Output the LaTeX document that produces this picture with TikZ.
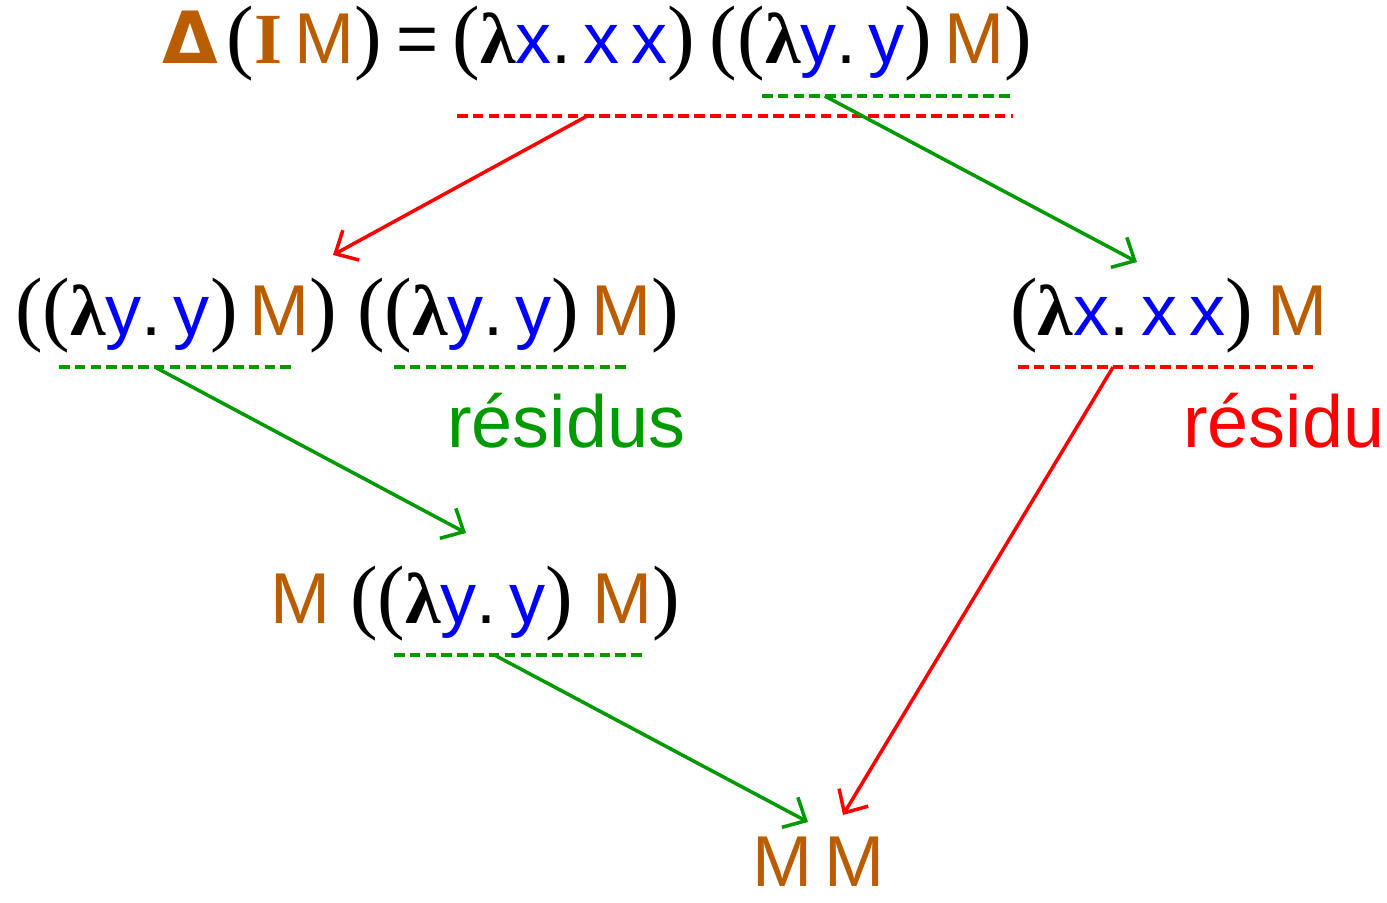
\documentclass[tikz,border=0pt]{standalone}
\usepackage{fontspec}
\setmainfont{Liberation Sans}
\newfontfamily\lamfont{Liberation Serif}
\newfontfamily\deltafont{DejaVu Sans}
\newfontfamily\parfont[Scale=1.15]{Liberation Serif}
\usetikzlibrary{arrows.meta,calc}
\definecolor{redInk}{RGB}{255,0,0}
\definecolor{greenInk}{RGB}{0,153,0}
\definecolor{blueInk}{RGB}{0,0,255}
\definecolor{termBrown}{RGB}{186,92,0}
\newcommand{\lam}{{\lamfont\bfseries λ}}
\newcommand{\lp}{{\parfont (}}
\newcommand{\rp}{{\parfont )}}
\newcommand{\vx}[1]{\textcolor{blueInk}{#1}}
\newcommand{\tm}[1]{\textcolor{termBrown}{#1}}
\newcommand{\idty}{\lp\lam\vx{y}.\,\vx{y}\rp}
\tikzset{
  term/.style={font=\fontsize{41}{44}\selectfont, inner sep=0pt,
    anchor=base west},
  tag/.style={font=\fontsize{42}{44}\selectfont, inner sep=0pt,
    anchor=base west},
  redex/.style={dash pattern=on 6pt off 3pt, line width=2.2pt},
  reduc/.style={-{Straight Barb[length=3.6mm, width=6.8mm]}, line width=2pt}
}
\begin{document}
\begin{tikzpicture}
\path[use as bounding box] (0,0) rectangle (27.74,-18.04);

\node[term] (top) at (3.24,-1.27)
  {\tm{{\deltafont\bfseries Δ}}\hspace{.12em}\lp\tm{{\lamfont\bfseries I}\,M}\rp\hspace{.2em}=\hspace{.2em}\lp\lam\vx{x}.\,\vx{x\,x}\rp\hspace{.2em}\lp\idty\,\tm{M}\rp};
\node[term] (dup) at (0.30,-6.70)
  {\lp\idty\,\tm{M}\rp\ \lp\idty\,\tm{M}\rp};
\node[term] (dlt) at (20.20,-6.70) {\lp\lam\vx{x}.\,\vx{x\,x}\rp\hspace{.2em}\tm{M}};
\node[tag, text=greenInk] (resg) at (8.94,-8.94) {résidus};
\node[tag, text=redInk] (resr) at (23.66,-8.94) {résidu};
\node[term] (half) at (5.40,-12.46) {\tm{M} \lp\idty\ \tm{M}\rp};
\node[term, text depth=0pt] (nf) at (15.04,-17.72) {\tm{M\,M}};

% redexes
\coordinate (ra) at (9.14,-2.32);  \coordinate (rb) at (20.26,-2.32);
\coordinate (ga) at (15.24,-1.92); \coordinate (gb) at (20.26,-1.92);
\coordinate (g1a) at (1.18,-7.34); \coordinate (g1b) at (5.90,-7.34);
\coordinate (g2a) at (7.88,-7.34); \coordinate (g2b) at (12.60,-7.34);
\coordinate (r2a) at (20.36,-7.34); \coordinate (r2b) at (26.36,-7.34);
\coordinate (g3a) at (7.88,-13.10); \coordinate (g3b) at (12.90,-13.10);
\draw[redex, redInk] (ra) -- (rb);
\draw[redex, greenInk] (ga) -- (gb);
\draw[redex, greenInk] (g1a) -- (g1b);
\draw[redex, greenInk] (g2a) -- (g2b);
\draw[redex, redInk] (r2a) -- (r2b);
\draw[redex, greenInk] (g3a) -- (g3b);

\coordinate (t1) at (6.66,-5.10);
\coordinate (t2) at (22.74,-5.24);
\coordinate (t3) at (9.32,-10.66);
\coordinate (t4) at (16.16,-16.44);
\coordinate (t5) at (16.86,-16.30);
\draw[reduc, redInk] ($(ra)!.234!(rb)$) -- (t1);
\draw[reduc, greenInk] ($(ga)!.25!(gb)$) -- (t2);
\draw[reduc, greenInk] ($(g1a)!.406!(g1b)$) -- (t3);
\draw[reduc, greenInk] ($(g3a)!.40!(g3b)$) -- (t4);
\draw[reduc, redInk] ($(r2a)!.317!(r2b)$) -- (t5);
\end{tikzpicture}
\end{document}
